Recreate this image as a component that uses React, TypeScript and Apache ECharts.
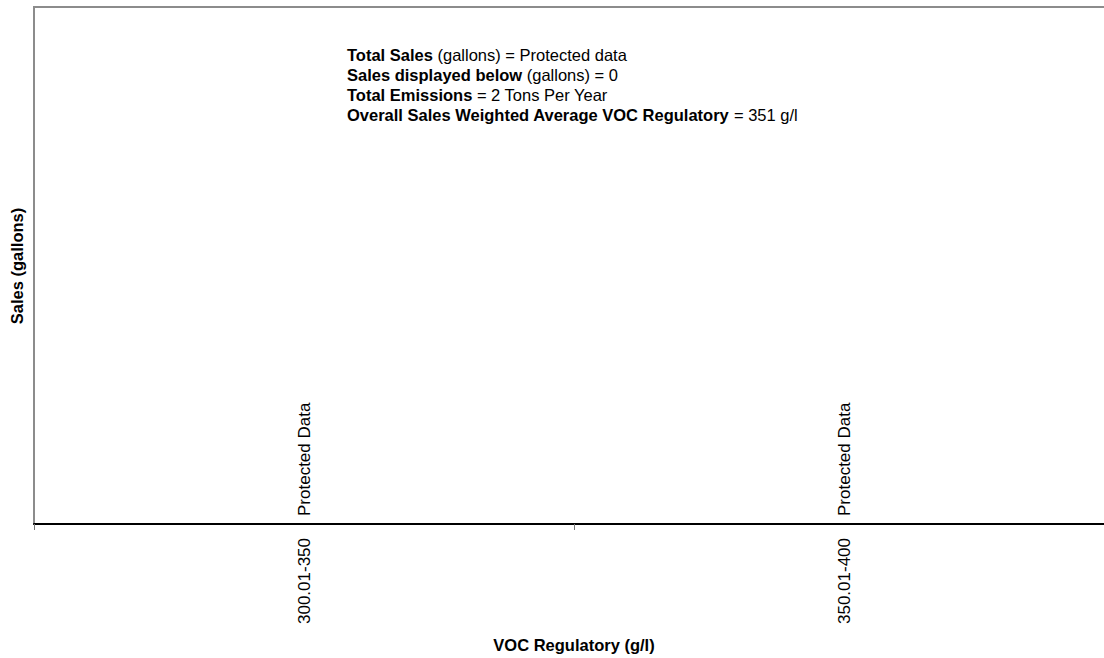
import React, { useEffect, useRef } from "react";
import * as echarts from "echarts";

const categories = ["300.01-350", "350.01-400"];
const salesValues = [0, 0];
const barLabels = ["Protected Data", "Protected Data"];
const xAxisTitle = "VOC Regulatory (g/l)";
const yAxisTitle = "Sales (gallons)";
const noteLines = [
  { bold: "Total Sales", rest: " (gallons) = Protected data" },
  { bold: "Sales displayed below", rest: " (gallons) = 0" },
  { bold: "Total Emissions", rest: " = 2 Tons Per Year" },
  { bold: "Overall Sales Weighted Average VOC Regulatory", rest: " = 351 g/l" },
];

const FONT = "Liberation Sans, Arial, sans-serif";

export default function App() {
  const ref = useRef<HTMLDivElement>(null);
  useEffect(() => {
    document.body.style.margin = "0";
    const chart = echarts.init(ref.current!, null, { renderer: "svg" });
    const noteText = noteLines.map((l) => `{b|${l.bold}}{r|${l.rest}}`).join("\n");
    chart.setOption({
      animation: false,
      textStyle: { fontFamily: FONT },
      grid: {
        left: 34,
        top: 7,
        width: 1080,
        bottom: 134,
        outerBoundsMode: "none",
        containLabel: false,
        show: true,
        borderColor: "#8c8c8c",
        borderWidth: 2,
      },
      xAxis: {
        type: "category",
        data: categories,
        axisLine: { lineStyle: { color: "#000", width: 2 } },
        axisTick: { show: true, length: 6, lineStyle: { color: "#777", width: 1 } },
        axisLabel: {
          rotate: 90,
          margin: 14,
          fontSize: 17,
          color: "#000",
          fontFamily: FONT,
        },
      },
      yAxis: {
        type: "value",
        min: 0,
        max: 1,
        axisLine: { show: false },
        axisTick: { show: false },
        axisLabel: { show: false },
        splitLine: { show: false },
      },
      series: [
        {
          type: "bar",
          data: salesValues,
          barWidth: "50%",
          itemStyle: { color: "#000" },
          label: {
            show: true,
            position: "top",
            rotate: 90,
            align: "left",
            verticalAlign: "middle",
            distance: 8,
            fontSize: 17,
            color: "#000",
            fontFamily: FONT,
            formatter: (p: any) => barLabels[p.dataIndex],
          },
        },
      ],
      graphic: [
        {
          type: "text",
          left: 347,
          top: 45,
          style: {
            text: noteText,
            lineHeight: 20,
            rich: {
              b: { fontWeight: "bold", fontSize: 16.5, fontFamily: FONT, fill: "#000", lineHeight: 20 },
              r: { fontSize: 16.5, fontFamily: FONT, fill: "#000", lineHeight: 20 },
            },
          },
        },
        {
          type: "text",
          x: 574,
          y: 645,
          style: {
            text: xAxisTitle,
            fontWeight: "bold",
            fontSize: 16.5,
            fontFamily: FONT,
            fill: "#000",
            align: "center",
            verticalAlign: "middle",
          },
        },
        {
          type: "text",
          x: 17,
          y: 266,
          rotation: Math.PI / 2,
          style: {
            text: yAxisTitle,
            fontWeight: "bold",
            fontSize: 16.5,
            fontFamily: FONT,
            fill: "#000",
            align: "center",
            verticalAlign: "middle",
          },
        },
      ],
    });
    return () => chart.dispose();
  }, []);
  return <div ref={ref} style={{ width: 1104, height: 658 }} />;
}
